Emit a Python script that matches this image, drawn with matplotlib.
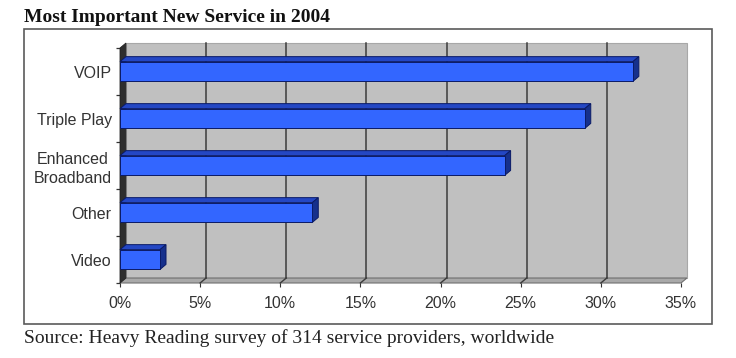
import matplotlib
matplotlib.use("Agg")
from matplotlib import pyplot as plt
from matplotlib.patches import Rectangle, Polygon

# Chart data
categories = ["Video", "Other", "Enhanced\nBroadband", "Triple Play", "VOIP"]
values = [2.5, 12, 24, 29, 32]
x_ticks = [0, 5, 10, 15, 20, 25, 30, 35]
x_tick_labels = ["0%", "5%", "10%", "15%", "20%", "25%", "30%", "35%"]

title = "Most Important New Service in 2004"
source = "Source: Heavy Reading survey of 314 service providers, worldwide"

# 3D look: depth offset in data units
DX = 0.37
DY = 0.106
BAR_H = 0.42

W, H = 736, 358


def main() -> None:
    fig = plt.figure(figsize=(W / 100, H / 100), dpi=100)
    fig.patch.set_facecolor("white")

    # outer frame round the chart
    fig.patches.append(Rectangle((24 / W, 1 - 324 / H), 688 / W, 295 / H,
                                 transform=fig.transFigure, fill=False,
                                 edgecolor="#5a5a5a", linewidth=1.2))

    ax = fig.add_axes([120 / W, 1 - 283 / H, 561 / W, 235 / H])
    ax.set_xlim(0, 35)
    ax.set_ylim(-0.5, len(categories) - 0.5)
    for s in ax.spines.values():
        s.set_visible(False)
    ax.set_facecolor("none")

    ylo, yhi = -0.5, len(categories) - 0.5

    # back wall
    ax.add_patch(Rectangle((DX, ylo + DY), 35, yhi - ylo, facecolor="#c0c0c0",
                           edgecolor="#a8a8a8", linewidth=0.8, zorder=1,
                           clip_on=False))
    # floor
    ax.add_patch(Polygon([(0, ylo), (35, ylo), (35 + DX, ylo + DY), (DX, ylo + DY)],
                         closed=True, facecolor="#a9a9a9", edgecolor="#707070",
                         linewidth=0.8, zorder=1, clip_on=False))
    # left wall
    ax.add_patch(Polygon([(0, ylo), (DX, ylo + DY), (DX, yhi + DY), (0, yhi)],
                         closed=True, facecolor="#2e2e2e", edgecolor="#222222",
                         linewidth=0.6, zorder=2, clip_on=False))

    # grid lines on back wall and floor
    for x in x_ticks[1:-1]:
        ax.plot([x + DX, x + DX], [ylo + DY, yhi + DY], color="#3c3c3c",
                linewidth=1.1, zorder=1.5, clip_on=False)
        ax.plot([x, x + DX], [ylo, ylo + DY], color="#3c3c3c",
                linewidth=1.0, zorder=1.5, clip_on=False)

    # bars with top and side faces
    for i, v in enumerate(values):
        y0, y1 = i - BAR_H / 2, i + BAR_H / 2
        ax.add_patch(Polygon([(0, y1), (v, y1), (v + DX, y1 + DY), (DX, y1 + DY)],
                             closed=True, facecolor="#2447c4", edgecolor="#0a1a66",
                             linewidth=0.7, zorder=3, clip_on=False))
        ax.add_patch(Polygon([(v, y0), (v, y1), (v + DX, y1 + DY), (v + DX, y0 + DY)],
                             closed=True, facecolor="#16308c", edgecolor="#0a1a66",
                             linewidth=0.7, zorder=3, clip_on=False))
        ax.add_patch(Rectangle((0, y0), v, BAR_H, facecolor="#3366ff",
                               edgecolor="#0a1a66", linewidth=0.7, zorder=4))

    # axes ticks and labels
    ax.set_xticks(x_ticks)
    ax.set_xticklabels(x_tick_labels, fontsize=11.5, family="Liberation Sans",
                       color="#333333")
    ax.tick_params(axis="x", length=3, width=0.8, color="#333333", pad=6)

    ax.set_yticks(range(len(categories)))
    ax.set_yticklabels(categories, fontsize=11.5, family="Liberation Sans",
                       color="#333333", multialignment="center", linespacing=1.3)
    ax.tick_params(axis="y", which="major", length=0, pad=6)
    ax.set_yticks([ylo + k for k in range(len(categories) + 1)], minor=True)
    ax.tick_params(axis="y", which="minor", length=3, width=0.9, color="#333333")

    fig.text(24 / W, 1 - 22 / H, title, fontsize=14, fontweight="bold",
             family="Liberation Serif", ha="left", va="baseline", color="#111111")
    fig.text(24 / W, 1 - 343 / H, source, fontsize=14,
             family="Liberation Serif", ha="left", va="baseline", color="#222222")

    fig.savefig("out.png", dpi=100)


if __name__ == "__main__":
    main()
